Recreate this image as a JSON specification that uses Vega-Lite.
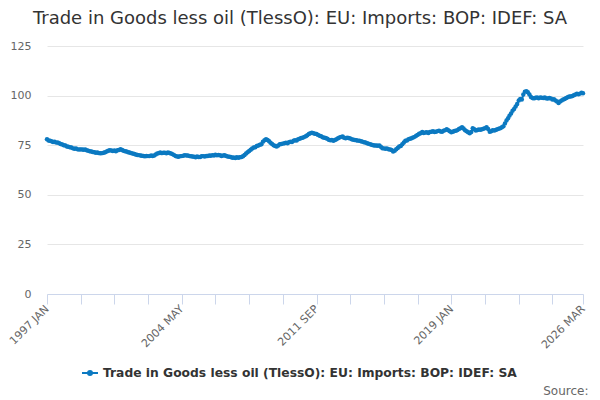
{
  "$schema": "https://vega.github.io/schema/vega-lite/v6.json",
  "description": "Monthly index, Trade in Goods less oil, EU imports, 1997 Jan to 2026 Mar.",
  "width": 536,
  "height": 248,
  "autosize": "none",
  "padding": {"left": 47, "top": 46, "right": 17, "bottom": 106},
  "title": {
    "text": "Trade in Goods less oil (TlessO): EU: Imports: BOP: IDEF: SA",
    "font": "DejaVu Sans",
    "fontSize": 18,
    "fontWeight": "normal",
    "color": "#333333",
    "anchor": "middle",
    "dx": -15,
    "offset": 12
  },
  "data": {
    "values": [
      {"month": "1997-01-01", "value": 78.0}, {"month": "1997-02-01", "value": 77.4}, {"month": "1997-03-01", "value": 77.2}, {"month": "1997-04-01", "value": 77.0},
      {"month": "1997-05-01", "value": 76.6}, {"month": "1997-06-01", "value": 76.8}, {"month": "1997-07-01", "value": 76.3}, {"month": "1997-08-01", "value": 76.4},
      {"month": "1997-09-01", "value": 76.0}, {"month": "1997-10-01", "value": 75.6}, {"month": "1997-11-01", "value": 75.4}, {"month": "1997-12-01", "value": 75.0},
      {"month": "1998-01-01", "value": 74.8}, {"month": "1998-02-01", "value": 74.4}, {"month": "1998-03-01", "value": 74.2}, {"month": "1998-04-01", "value": 74.0},
      {"month": "1998-05-01", "value": 73.8}, {"month": "1998-06-01", "value": 73.4}, {"month": "1998-07-01", "value": 73.2}, {"month": "1998-08-01", "value": 73.3},
      {"month": "1998-09-01", "value": 72.9}, {"month": "1998-10-01", "value": 72.8}, {"month": "1998-11-01", "value": 72.9}, {"month": "1998-12-01", "value": 72.8},
      {"month": "1999-01-01", "value": 72.7}, {"month": "1999-02-01", "value": 72.8}, {"month": "1999-03-01", "value": 72.5}, {"month": "1999-04-01", "value": 72.2},
      {"month": "1999-05-01", "value": 72.0}, {"month": "1999-06-01", "value": 71.8}, {"month": "1999-07-01", "value": 71.6}, {"month": "1999-08-01", "value": 71.5},
      {"month": "1999-09-01", "value": 71.2}, {"month": "1999-10-01", "value": 71.3}, {"month": "1999-11-01", "value": 71.0}, {"month": "1999-12-01", "value": 70.9},
      {"month": "2000-01-01", "value": 71.0}, {"month": "2000-02-01", "value": 71.2}, {"month": "2000-03-01", "value": 71.5}, {"month": "2000-04-01", "value": 71.8},
      {"month": "2000-05-01", "value": 72.2}, {"month": "2000-06-01", "value": 72.5}, {"month": "2000-07-01", "value": 72.3}, {"month": "2000-08-01", "value": 72.1},
      {"month": "2000-09-01", "value": 72.3}, {"month": "2000-10-01", "value": 72.0}, {"month": "2000-11-01", "value": 72.4}, {"month": "2000-12-01", "value": 72.6},
      {"month": "2001-01-01", "value": 73.0}, {"month": "2001-02-01", "value": 72.6}, {"month": "2001-03-01", "value": 72.2}, {"month": "2001-04-01", "value": 72.0},
      {"month": "2001-05-01", "value": 71.8}, {"month": "2001-06-01", "value": 71.5}, {"month": "2001-07-01", "value": 71.3}, {"month": "2001-08-01", "value": 71.0},
      {"month": "2001-09-01", "value": 70.8}, {"month": "2001-10-01", "value": 70.6}, {"month": "2001-11-01", "value": 70.3}, {"month": "2001-12-01", "value": 70.1},
      {"month": "2002-01-01", "value": 70.0}, {"month": "2002-02-01", "value": 69.8}, {"month": "2002-03-01", "value": 69.7}, {"month": "2002-04-01", "value": 69.6},
      {"month": "2002-05-01", "value": 69.4}, {"month": "2002-06-01", "value": 69.6}, {"month": "2002-07-01", "value": 69.5}, {"month": "2002-08-01", "value": 69.5},
      {"month": "2002-09-01", "value": 69.8}, {"month": "2002-10-01", "value": 69.6}, {"month": "2002-11-01", "value": 69.8}, {"month": "2002-12-01", "value": 70.3},
      {"month": "2003-01-01", "value": 70.8}, {"month": "2003-02-01", "value": 71.0}, {"month": "2003-03-01", "value": 71.3}, {"month": "2003-04-01", "value": 71.0},
      {"month": "2003-05-01", "value": 71.2}, {"month": "2003-06-01", "value": 71.2}, {"month": "2003-07-01", "value": 70.9}, {"month": "2003-08-01", "value": 71.3},
      {"month": "2003-09-01", "value": 71.1}, {"month": "2003-10-01", "value": 70.8}, {"month": "2003-11-01", "value": 70.5}, {"month": "2003-12-01", "value": 70.0},
      {"month": "2004-01-01", "value": 69.6}, {"month": "2004-02-01", "value": 69.3}, {"month": "2004-03-01", "value": 69.2}, {"month": "2004-04-01", "value": 69.5},
      {"month": "2004-05-01", "value": 69.5}, {"month": "2004-06-01", "value": 69.7}, {"month": "2004-07-01", "value": 70.0}, {"month": "2004-08-01", "value": 69.8},
      {"month": "2004-09-01", "value": 69.8}, {"month": "2004-10-01", "value": 69.5}, {"month": "2004-11-01", "value": 69.4}, {"month": "2004-12-01", "value": 69.3},
      {"month": "2005-01-01", "value": 69.2}, {"month": "2005-02-01", "value": 68.9}, {"month": "2005-03-01", "value": 69.3}, {"month": "2005-04-01", "value": 69.0},
      {"month": "2005-05-01", "value": 69.1}, {"month": "2005-06-01", "value": 69.4}, {"month": "2005-07-01", "value": 69.5}, {"month": "2005-08-01", "value": 69.3},
      {"month": "2005-09-01", "value": 69.6}, {"month": "2005-10-01", "value": 69.6}, {"month": "2005-11-01", "value": 69.8}, {"month": "2005-12-01", "value": 69.7},
      {"month": "2006-01-01", "value": 70.0}, {"month": "2006-02-01", "value": 69.8}, {"month": "2006-03-01", "value": 70.2}, {"month": "2006-04-01", "value": 69.9},
      {"month": "2006-05-01", "value": 70.1}, {"month": "2006-06-01", "value": 69.9}, {"month": "2006-07-01", "value": 69.6}, {"month": "2006-08-01", "value": 69.8},
      {"month": "2006-09-01", "value": 69.9}, {"month": "2006-10-01", "value": 69.6}, {"month": "2006-11-01", "value": 69.3}, {"month": "2006-12-01", "value": 69.2},
      {"month": "2007-01-01", "value": 69.0}, {"month": "2007-02-01", "value": 68.7}, {"month": "2007-03-01", "value": 68.8}, {"month": "2007-04-01", "value": 68.6},
      {"month": "2007-05-01", "value": 68.9}, {"month": "2007-06-01", "value": 68.7}, {"month": "2007-07-01", "value": 68.9}, {"month": "2007-08-01", "value": 69.0},
      {"month": "2007-09-01", "value": 69.4}, {"month": "2007-10-01", "value": 70.1}, {"month": "2007-11-01", "value": 70.8}, {"month": "2007-12-01", "value": 71.5},
      {"month": "2008-01-01", "value": 72.1}, {"month": "2008-02-01", "value": 72.7}, {"month": "2008-03-01", "value": 73.3}, {"month": "2008-04-01", "value": 73.8},
      {"month": "2008-05-01", "value": 74.0}, {"month": "2008-06-01", "value": 74.6}, {"month": "2008-07-01", "value": 74.9}, {"month": "2008-08-01", "value": 75.2},
      {"month": "2008-09-01", "value": 75.5}, {"month": "2008-10-01", "value": 76.8}, {"month": "2008-11-01", "value": 77.5}, {"month": "2008-12-01", "value": 78.0},
      {"month": "2009-01-01", "value": 77.6}, {"month": "2009-02-01", "value": 77.0}, {"month": "2009-03-01", "value": 76.2}, {"month": "2009-04-01", "value": 75.6},
      {"month": "2009-05-01", "value": 75.0}, {"month": "2009-06-01", "value": 74.6}, {"month": "2009-07-01", "value": 74.3}, {"month": "2009-08-01", "value": 74.8},
      {"month": "2009-09-01", "value": 75.5}, {"month": "2009-10-01", "value": 75.6}, {"month": "2009-11-01", "value": 75.8}, {"month": "2009-12-01", "value": 76.0},
      {"month": "2010-01-01", "value": 76.2}, {"month": "2010-02-01", "value": 76.0}, {"month": "2010-03-01", "value": 76.5}, {"month": "2010-04-01", "value": 76.8},
      {"month": "2010-05-01", "value": 76.6}, {"month": "2010-06-01", "value": 77.2}, {"month": "2010-07-01", "value": 77.5}, {"month": "2010-08-01", "value": 77.4},
      {"month": "2010-09-01", "value": 78.0}, {"month": "2010-10-01", "value": 78.2}, {"month": "2010-11-01", "value": 78.6}, {"month": "2010-12-01", "value": 78.8},
      {"month": "2011-01-01", "value": 79.2}, {"month": "2011-02-01", "value": 79.5}, {"month": "2011-03-01", "value": 80.0}, {"month": "2011-04-01", "value": 80.6},
      {"month": "2011-05-01", "value": 81.0}, {"month": "2011-06-01", "value": 81.3}, {"month": "2011-07-01", "value": 81.0}, {"month": "2011-08-01", "value": 80.8},
      {"month": "2011-09-01", "value": 80.6}, {"month": "2011-10-01", "value": 80.2}, {"month": "2011-11-01", "value": 79.8}, {"month": "2011-12-01", "value": 79.5},
      {"month": "2012-01-01", "value": 79.0}, {"month": "2012-02-01", "value": 78.8}, {"month": "2012-03-01", "value": 78.6}, {"month": "2012-04-01", "value": 78.2},
      {"month": "2012-05-01", "value": 77.8}, {"month": "2012-06-01", "value": 77.5}, {"month": "2012-07-01", "value": 77.6}, {"month": "2012-08-01", "value": 77.2},
      {"month": "2012-09-01", "value": 77.6}, {"month": "2012-10-01", "value": 78.0}, {"month": "2012-11-01", "value": 78.5}, {"month": "2012-12-01", "value": 78.9},
      {"month": "2013-01-01", "value": 79.2}, {"month": "2013-02-01", "value": 79.4}, {"month": "2013-03-01", "value": 78.8}, {"month": "2013-04-01", "value": 78.5},
      {"month": "2013-05-01", "value": 78.8}, {"month": "2013-06-01", "value": 78.6}, {"month": "2013-07-01", "value": 78.4}, {"month": "2013-08-01", "value": 78.0},
      {"month": "2013-09-01", "value": 77.8}, {"month": "2013-10-01", "value": 77.6}, {"month": "2013-11-01", "value": 77.5}, {"month": "2013-12-01", "value": 77.3},
      {"month": "2014-01-01", "value": 77.2}, {"month": "2014-02-01", "value": 77.0}, {"month": "2014-03-01", "value": 76.8}, {"month": "2014-04-01", "value": 76.5},
      {"month": "2014-05-01", "value": 76.4}, {"month": "2014-06-01", "value": 76.0}, {"month": "2014-07-01", "value": 75.7}, {"month": "2014-08-01", "value": 75.5},
      {"month": "2014-09-01", "value": 75.2}, {"month": "2014-10-01", "value": 75.0}, {"month": "2014-11-01", "value": 74.9}, {"month": "2014-12-01", "value": 74.8},
      {"month": "2015-01-01", "value": 74.7}, {"month": "2015-02-01", "value": 74.9}, {"month": "2015-03-01", "value": 74.2}, {"month": "2015-04-01", "value": 73.5},
      {"month": "2015-05-01", "value": 73.4}, {"month": "2015-06-01", "value": 73.2}, {"month": "2015-07-01", "value": 73.4}, {"month": "2015-08-01", "value": 73.0},
      {"month": "2015-09-01", "value": 72.8}, {"month": "2015-10-01", "value": 72.6}, {"month": "2015-11-01", "value": 71.8}, {"month": "2015-12-01", "value": 72.2},
      {"month": "2016-01-01", "value": 73.0}, {"month": "2016-02-01", "value": 73.6}, {"month": "2016-03-01", "value": 74.3}, {"month": "2016-04-01", "value": 74.6},
      {"month": "2016-05-01", "value": 75.5}, {"month": "2016-06-01", "value": 76.4}, {"month": "2016-07-01", "value": 77.2}, {"month": "2016-08-01", "value": 77.4},
      {"month": "2016-09-01", "value": 78.0}, {"month": "2016-10-01", "value": 78.3}, {"month": "2016-11-01", "value": 78.5}, {"month": "2016-12-01", "value": 78.9},
      {"month": "2017-01-01", "value": 79.2}, {"month": "2017-02-01", "value": 79.8}, {"month": "2017-03-01", "value": 80.2}, {"month": "2017-04-01", "value": 80.8},
      {"month": "2017-05-01", "value": 81.0}, {"month": "2017-06-01", "value": 81.6}, {"month": "2017-07-01", "value": 81.2}, {"month": "2017-08-01", "value": 81.4},
      {"month": "2017-09-01", "value": 81.5}, {"month": "2017-10-01", "value": 81.2}, {"month": "2017-11-01", "value": 81.6}, {"month": "2017-12-01", "value": 81.8},
      {"month": "2018-01-01", "value": 82.0}, {"month": "2018-02-01", "value": 81.7}, {"month": "2018-03-01", "value": 81.8}, {"month": "2018-04-01", "value": 82.1},
      {"month": "2018-05-01", "value": 82.3}, {"month": "2018-06-01", "value": 81.9}, {"month": "2018-07-01", "value": 81.8}, {"month": "2018-08-01", "value": 82.3},
      {"month": "2018-09-01", "value": 82.6}, {"month": "2018-10-01", "value": 83.0}, {"month": "2018-11-01", "value": 82.5}, {"month": "2018-12-01", "value": 82.0},
      {"month": "2019-01-01", "value": 81.5}, {"month": "2019-02-01", "value": 81.8}, {"month": "2019-03-01", "value": 82.2}, {"month": "2019-04-01", "value": 82.3},
      {"month": "2019-05-01", "value": 82.6}, {"month": "2019-06-01", "value": 83.2}, {"month": "2019-07-01", "value": 83.6}, {"month": "2019-08-01", "value": 84.0},
      {"month": "2019-09-01", "value": 83.4}, {"month": "2019-10-01", "value": 82.5}, {"month": "2019-11-01", "value": 82.0}, {"month": "2019-12-01", "value": 81.5},
      {"month": "2020-01-01", "value": 81.0}, {"month": "2020-02-01", "value": 81.6}, {"month": "2020-03-01", "value": 83.5}, {"month": "2020-04-01", "value": 83.0},
      {"month": "2020-05-01", "value": 82.4}, {"month": "2020-06-01", "value": 82.7}, {"month": "2020-07-01", "value": 82.9}, {"month": "2020-08-01", "value": 82.8},
      {"month": "2020-09-01", "value": 83.0}, {"month": "2020-10-01", "value": 83.3}, {"month": "2020-11-01", "value": 83.6}, {"month": "2020-12-01", "value": 84.0},
      {"month": "2021-01-01", "value": 83.2}, {"month": "2021-02-01", "value": 81.8}, {"month": "2021-03-01", "value": 82.0}, {"month": "2021-04-01", "value": 82.5},
      {"month": "2021-05-01", "value": 82.4}, {"month": "2021-06-01", "value": 82.7}, {"month": "2021-07-01", "value": 83.0}, {"month": "2021-08-01", "value": 83.3},
      {"month": "2021-09-01", "value": 83.6}, {"month": "2021-10-01", "value": 84.0}, {"month": "2021-11-01", "value": 84.6}, {"month": "2021-12-01", "value": 86.0},
      {"month": "2022-01-01", "value": 87.4}, {"month": "2022-02-01", "value": 88.6}, {"month": "2022-03-01", "value": 89.9}, {"month": "2022-04-01", "value": 91.0},
      {"month": "2022-05-01", "value": 92.4}, {"month": "2022-06-01", "value": 93.2}, {"month": "2022-07-01", "value": 94.5}, {"month": "2022-08-01", "value": 95.8},
      {"month": "2022-09-01", "value": 97.5}, {"month": "2022-10-01", "value": 98.3}, {"month": "2022-11-01", "value": 98.0}, {"month": "2022-12-01", "value": 100.5},
      {"month": "2023-01-01", "value": 102.0}, {"month": "2023-02-01", "value": 102.2}, {"month": "2023-03-01", "value": 101.7}, {"month": "2023-04-01", "value": 100.5},
      {"month": "2023-05-01", "value": 99.3}, {"month": "2023-06-01", "value": 98.8}, {"month": "2023-07-01", "value": 98.6}, {"month": "2023-08-01", "value": 98.9},
      {"month": "2023-09-01", "value": 99.0}, {"month": "2023-10-01", "value": 98.7}, {"month": "2023-11-01", "value": 99.1}, {"month": "2023-12-01", "value": 98.9},
      {"month": "2024-01-01", "value": 98.8}, {"month": "2024-02-01", "value": 99.0}, {"month": "2024-03-01", "value": 98.6}, {"month": "2024-04-01", "value": 98.5},
      {"month": "2024-05-01", "value": 98.8}, {"month": "2024-06-01", "value": 98.6}, {"month": "2024-07-01", "value": 98.0}, {"month": "2024-08-01", "value": 98.2},
      {"month": "2024-09-01", "value": 97.5}, {"month": "2024-10-01", "value": 97.0}, {"month": "2024-11-01", "value": 96.3}, {"month": "2024-12-01", "value": 97.0},
      {"month": "2025-01-01", "value": 97.5}, {"month": "2025-02-01", "value": 98.0}, {"month": "2025-03-01", "value": 98.3}, {"month": "2025-04-01", "value": 98.8},
      {"month": "2025-05-01", "value": 99.2}, {"month": "2025-06-01", "value": 99.6}, {"month": "2025-07-01", "value": 99.5}, {"month": "2025-08-01", "value": 99.8},
      {"month": "2025-09-01", "value": 100.2}, {"month": "2025-10-01", "value": 100.5}, {"month": "2025-11-01", "value": 100.9}, {"month": "2025-12-01", "value": 100.7},
      {"month": "2026-01-01", "value": 101.0}, {"month": "2026-02-01", "value": 101.5}, {"month": "2026-03-01", "value": 101.2}
    ]
  },
  "mark": {
    "type": "line",
    "strokeWidth": 2,
    "point": {"filled": true, "size": 20}
  },
  "encoding": {
    "x": {
      "field": "month",
      "type": "temporal",
      "scale": {
        "type": "utc",
        "domain": [
          {"year": 1997, "month": 1, "date": 1, "utc": true},
          {"year": 2026, "month": 3, "date": 1, "utc": true}
        ]
      },
      "axis": {
        "values": [
          {"year": 1997, "month": 1, "date": 1, "utc": true},
          {"year": 1998, "month": 11, "date": 1, "utc": true},
          {"year": 2000, "month": 9, "date": 1, "utc": true},
          {"year": 2002, "month": 7, "date": 1, "utc": true},
          {"year": 2004, "month": 5, "date": 1, "utc": true},
          {"year": 2006, "month": 3, "date": 1, "utc": true},
          {"year": 2008, "month": 1, "date": 1, "utc": true},
          {"year": 2009, "month": 11, "date": 1, "utc": true},
          {"year": 2011, "month": 9, "date": 1, "utc": true},
          {"year": 2013, "month": 7, "date": 1, "utc": true},
          {"year": 2015, "month": 5, "date": 1, "utc": true},
          {"year": 2017, "month": 3, "date": 1, "utc": true},
          {"year": 2019, "month": 1, "date": 1, "utc": true},
          {"year": 2020, "month": 11, "date": 1, "utc": true},
          {"year": 2022, "month": 9, "date": 1, "utc": true},
          {"year": 2024, "month": 7, "date": 1, "utc": true},
          {"year": 2026, "month": 3, "date": 1, "utc": true}
        ],
        "labelExpr": "indexof(['1997 JAN', '2004 MAY', '2011 SEP', '2019 JAN', '2026 MAR'], upper(utcFormat(datum.value, '%Y %b'))) >= 0 ? upper(utcFormat(datum.value, '%Y %b')) : ''",
        "labelAngle": -45,
        "labelAlign": "right",
        "labelBaseline": "middle",
        "labelPadding": 3,
        "labelOverlap": false,
        "labelFlush": false,
        "labelBound": false,
        "labelFont": "DejaVu Sans",
        "labelFontSize": 11,
        "labelColor": "#666666",
        "grid": false,
        "domainColor": "#ccd6eb",
        "tickColor": "#ccd6eb",
        "tickSize": 10,
        "title": "Source:",
        "titleFont": "DejaVu Sans",
        "titleFontSize": 12,
        "titleFontWeight": "normal",
        "titleColor": "#666666",
        "titleAlign": "right",
        "titleBaseline": "alphabetic",
        "titleX": 541,
        "titleY": 100
      }
    },
    "y": {
      "field": "value",
      "type": "quantitative",
      "scale": {"domain": [0, 125], "nice": false},
      "axis": {
        "values": [0, 25, 50, 75, 100, 125],
        "title": null,
        "domain": false,
        "ticks": false,
        "labelPadding": 16,
        "labelFont": "DejaVu Sans",
        "labelFontSize": 11,
        "labelColor": "#666666",
        "gridColor": "#e6e6e6"
      }
    },
    "color": {
      "datum": "Trade in Goods less oil (TlessO): EU: Imports: BOP: IDEF: SA",
      "scale": {"range": ["#0b79c1"]},
      "legend": {
        "title": null,
        "orient": "none",
        "legendX": 34,
        "legendY": 318,
        "padding": 0,
        "symbolType": "M-1,0H1M-0.25,0A0.25,0.25,0,1,1,0.25,0A0.25,0.25,0,1,1,-0.25,0Z",
        "symbolSize": 256,
        "symbolStrokeWidth": 2,
        "symbolFillColor": "#0b79c1",
        "labelFont": "DejaVu Sans",
        "labelFontSize": 12.3,
        "labelFontWeight": "bold",
        "labelColor": "#333333",
        "labelLimit": 0
      }
    }
  },
  "config": {
    "view": {"stroke": null}
  }
}
